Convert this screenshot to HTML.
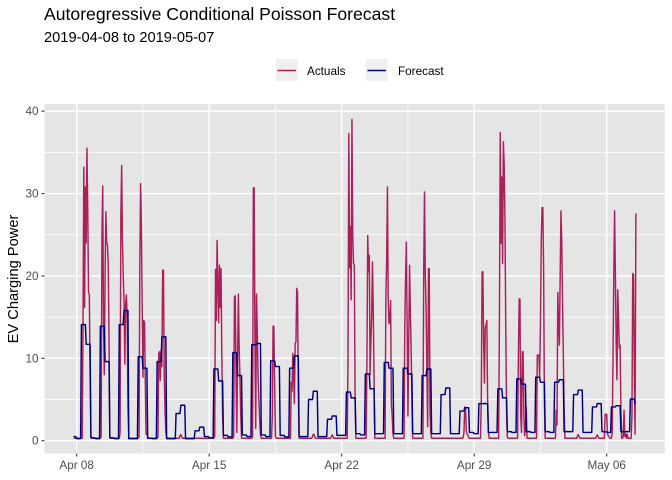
<!DOCTYPE html>
<html>
<head>
<meta charset="utf-8">
<style>
html,body{margin:0;padding:0;background:#fff;}
svg{display:block;font-family:"Liberation Sans",Arial,sans-serif;}
</style>
</head>
<body>
<svg id="chart" xmlns="http://www.w3.org/2000/svg" width="672" height="480" viewBox="0 0 672 480">
  <text x="44" y="20" font-size="17.6" fill="#000">Autoregressive Conditional Poisson Forecast</text>
  <text x="44" y="42" font-size="14.67" fill="#000">2019-04-08 to 2019-05-07</text>

  <g>
    <rect x="276" y="59" width="21.6" height="22" fill="#EFEFEF"/>
    <line x1="277.5" x2="296" y1="70.5" y2="70.5" stroke="#C2185B" stroke-width="1.4"/>
    <text x="307" y="75" font-size="11.73" fill="#000">Actuals</text>
    <rect x="366" y="59" width="21.6" height="22" fill="#EFEFEF"/>
    <line x1="367.5" x2="386" y1="70.5" y2="70.5" stroke="#00008B" stroke-width="1.4"/>
    <text x="398" y="75" font-size="11.73" fill="#000">Forecast</text>
  </g>

  <rect x="44.5" y="104" width="620.3" height="349.5" fill="#E5E5E5"/>
  <g id="grid"></g>
  <g id="series"></g>
  <g id="axes"></g>

  <text transform="translate(18,279) rotate(-90)" text-anchor="middle" font-size="14.67" fill="#000">EV Charging Power</text>
</svg>

<script>
// Axis ticks
const yTickValues = [0, 10, 20, 30, 40];
const yMinorValues = [5, 15, 25, 35];
const xTickDays = [0, 7, 14, 21, 28];
const xTickLabels = ["Apr 08", "Apr 15", "Apr 22", "Apr 29", "May 06"];
const xMinorDays = [3.5, 10.5, 17.5, 24.5];

// Actuals: hourly values, first four entries are the hours before Apr 08 00:00,
// then one row of 24 hourly readings per day.
const actualLeadIn = [0.3, 0.3, 0.3, 0.3];
const actualDays = [
  [.3,.3,.3,.3,.3,.3,.3,.3,14,33.2,16.2,30.8,24,35.5,28,18,17.8,8,.4,.3,.3,.3,.3,.3],
  [.3,.3,.3,.3,.3,.3,.3,.5,25,30.9,14,8,20,27.8,24,23.8,21.4,12,.4,.3,.3,.3,.3,.3],
  [.3,.3,.3,.3,.3,.3,.3,1,27.4,33.4,24.3,20,17,9.3,16.5,17.7,15,4,.4,.3,.3,.3,.3,.3],
  [.3,.3,.3,.3,.3,.3,.3,.5,20.5,31.2,26.5,17,7.7,14.6,14.4,7,.8,1,.4,.3,.3,.3,.3,.3],
  [.3,.3,.3,.3,.3,.3,.3,.4,10.6,10.8,7.3,11,9,20.7,20.7,8,3.7,1,.4,.3,.3,.3,.3,.3],
  [.3,.3,.3,.3,.3,.3,.3,.3,.3,.3,.3,.6,.75,.5,.3,.3,.3,.3,.3,.3,.3,.3,.3,.3],
  [.3,.3,.3,.3,.3,.3,.3,.3,.3,.3,.3,.3,.3,.3,.3,.3,.3,.3,.3,.3,.3,.3,.3,.3],
  [.3,.3,.3,.3,.3,.3,.3,.5,20.8,14.6,24.3,19,14.3,21.3,16.2,20.9,10.2,3,.3,.3,.3,.3,.3,.3],
  [.3,.3,.3,.3,.3,.3,.3,.5,17.4,17.6,8,1,10,17.8,11.2,7.7,3,.3,.3,.3,.3,.3,.3,.3],
  [.3,.3,.3,.3,.3,.3,.3,.5,30.7,30.7,12,1.5,17.8,13,7.7,5,2.5,.8,.3,.3,.3,.3,.3,.3],
  [.3,.3,.3,.3,.3,.3,.3,.3,3,13.9,13.9,6.8,.5,.3,.3,.3,.3,.3,.3,.3,.3,.3,.3,.3],
  [.3,.3,.3,.3,.3,.3,.3,.3,7.1,6,10.6,8,4.5,11.8,12,18.5,18,6,.3,.3,.3,.3,.3,.3],
  [.3,.3,.3,.3,.3,.3,.3,.3,.3,.3,.3,.5,.8,.7,.4,.3,.3,.3,.3,.3,.3,.3,.3,.3],
  [.3,.3,.3,.3,.3,.3,.3,.3,.3,.3,.3,.5,.7,.5,.3,.3,.3,.3,.3,.3,.3,.3,.3,.3],
  [.3,.3,.3,.3,.3,.3,.3,.3,10,37.3,21,26,17.1,39,25,21.5,21.3,5,.3,.3,.3,.3,.3,.3],
  [.3,.3,.3,.3,.3,.3,.3,.3,10,24.9,20.5,22.5,8,12,15.2,21.7,16,7.7,.3,.3,.3,.3,.3,.3],
  [.3,.3,.3,.3,.3,.3,.3,.3,17.2,22,30.8,17,14.2,14.4,17,4.3,3,.8,.3,.3,.3,.3,.3,.3],
  [.3,.3,.3,.3,.3,.3,.3,.3,14,20,24.1,14,3,12,21.3,16,11.4,5,.3,.3,.3,.3,.3,.3],
  [.3,.3,.3,.3,.3,.3,.3,.3,20.7,30.2,20,16,9,1.7,20.9,20.9,3.5,1,.3,.3,.3,.3,.3,.3],
  [.3,.3,.3,.3,.3,.3,.3,.3,.3,.3,.3,.3,.3,.3,.3,.3,.3,.3,.3,.3,.3,.3,.3,.3],
  [.3,.3,.3,.3,.3,.3,.3,.3,.3,.3,.4,1,4.1,3.9,1.2,.8,.7,.4,.3,.3,.3,.3,.3,.3],
  [.3,.3,.3,.3,.3,.3,.3,.3,.3,5,20.5,20.5,12,7,13.8,14,14.6,5,1,.3,.3,.3,.3,.3],
  [.3,.3,.3,.3,.3,.3,.3,.3,15,37.4,24,32,21.5,36.3,33.5,27,13.8,4,.4,.3,.3,.3,.3,.3],
  [.3,.3,.3,.3,.3,.3,.3,.3,10,17.2,17.2,3,1,10.8,10.8,3,.6,2,4.1,.3,.3,.3,.3,.3],
  [.3,.3,.3,.3,.3,.3,.3,.3,10.4,10.4,10.4,7.7,14.2,24.3,28.3,28.3,21,5,.3,.3,.3,.3,.3,.3],
  [.3,.3,.3,.3,.3,.3,.3,.3,3.7,1.9,18,14.4,11.6,20,27.9,24.3,17,10.4,4,.3,.3,.3,.3,.3],
  [.3,.3,.3,.3,.3,.3,.3,.3,.3,.3,.3,.6,.75,.5,.3,.3,.3,.3,.3,.3,.3,.3,.3,.3],
  [.3,.3,.3,.3,.3,.3,.3,.3,.3,.3,.3,.5,.7,.5,.3,.3,.3,.3,.3,.3,.3,.3,3.2,3.2],
  [3.2,.8,.6,.5,.3,.3,.3,1,10,20,27.9,20.3,12,7.4,18.3,15,11.2,11.6,4,.3,.3,.5,3.7,.5],
  [.8,.3,.8,.3,.3,.3,.3,.3,3,20.3,20.1,8,.8,27.6]
];

// Forecast: one value per six-hour block, first entry is the block before Apr 08 00:00,
// then four blocks per day.
const forecastLeadIn = [0.5];
const forecastDays = [
  [.25,14.1,11.7,.35],[.25,13.9,9.6,.35],[.25,14.1,15.8,.25],[.25,10.2,8.8,.3],[.25,9.6,12.6,.25],
  [.25,3.3,4.3,.25],[.25,1.2,1.65,.5],[.35,8.7,7.25,.65],[.45,10.7,7.9,.7],[.5,11.65,11.8,.7],
  [.5,9.7,9.0,.65],[.45,8.8,10.3,.5],[.5,5.0,6.0,.5],[.5,2.6,3.0,.65],[.65,5.9,5.2,.85],
  [.7,8.1,6.3,.85],[.85,9.5,8.8,.85],[.85,8.8,8.1,.85],[.85,7.9,8.7,.85],[.85,5.6,6.4,.85],
  [.85,3.6,4.0,1.0],[.85,4.5,4.5,1.0],[1.0,6.3,5.2,1.1],[1.0,7.5,6.85,1.1],[1.0,7.7,7.1,1.1],
  [1.0,7.1,7.4,1.1],[1.1,5.6,6.15,1.0],[1.0,4.1,4.5,1.1],[1.0,4.1,4.25,1.1],[1.1,5.05,4.55]
];

const SVG_NS = "http://www.w3.org/2000/svg";
const actualSeries = actualLeadIn.concat(actualDays.flat());
const forecastSeries = forecastLeadIn.concat(forecastDays.flat());

// Axis functions
function xDay(day) { return 76.7 + day * (132.5 / 7); }
function xHour(hour) { return xDay(hour / 24); }
function yVal(v) { return 440.7 - v * 8.2375; }

function mk(tag, attrs, parent) {
  const el = document.createElementNS(SVG_NS, tag);
  for (const k in attrs) el.setAttribute(k, attrs[k]);
  parent.appendChild(el);
  return el;
}

const grid = document.getElementById("grid");
const axes = document.getElementById("axes");
const series = document.getElementById("series");
const L = 44.5, R = 664.8, T = 104, B = 453.5;

yMinorValues.forEach(function (v) {
  const el = mk("line", {x1: L, x2: R, y1: yVal(v), y2: yVal(v), stroke: "#fff", "stroke-width": 0.7}, grid);
  
  
});
xMinorDays.forEach(function (d) {
  const el = mk("line", {x1: xDay(d), x2: xDay(d), y1: T, y2: B, stroke: "#fff", "stroke-width": 0.7}, grid);
  
  
});
yTickValues.forEach(function (v) {
  const g = mk("line", {x1: L, x2: R, y1: yVal(v), y2: yVal(v), stroke: "#fff", "stroke-width": 1.4}, grid);
  
  
  const t = mk("line", {x1: L - 3, x2: L, y1: yVal(v), y2: yVal(v), stroke: "#333", "stroke-width": 1.07}, axes);
  
  
  const lab = mk("text", {x: 38.5, y: yVal(v) + 4, "text-anchor": "end", "font-size": 11.73, fill: "#4D4D4D"}, axes);
  lab.textContent = String(v);
  
  
});
xTickDays.forEach(function (d, i) {
  const g = mk("line", {x1: xDay(d), x2: xDay(d), y1: T, y2: B, stroke: "#fff", "stroke-width": 1.4}, grid);
  
  
  const t = mk("line", {x1: xDay(d), x2: xDay(d), y1: B, y2: B + 3, stroke: "#333", "stroke-width": 1.07}, axes);
  
  
  const lab = mk("text", {x: xDay(d), y: 469, "text-anchor": "middle", "font-size": 11.73, fill: "#4D4D4D"}, axes);
  lab.textContent = xTickLabels[i];
  
  
});

// Actuals line: one vertex per hourly reading
const actualPts = actualSeries.map(function (v, i) {
  return xHour(i - actualLeadIn.length).toFixed(2) + "," + yVal(v).toFixed(2);
});
const actualLine = mk("polyline", {points: actualPts.join(" "), fill: "none", stroke: "#AA2058", "stroke-width": 1.45, "stroke-linejoin": "round"}, series);



// Forecast line: held constant over each six-hour block, sampled hourly
const lastHour = actualSeries.length - actualLeadIn.length - 1;
const forecastPts = [];
for (let h = -actualLeadIn.length; h <= lastHour; h++) {
  const idx = Math.floor((h + 6) / 6);
  forecastPts.push(xHour(h).toFixed(2) + "," + yVal(forecastSeries[idx]).toFixed(2));
}
const forecastLine = mk("polyline", {points: forecastPts.join(" "), fill: "none", stroke: "#00007F", "stroke-width": 1.45, "stroke-linejoin": "round"}, series);


</script>
</body>
</html>
